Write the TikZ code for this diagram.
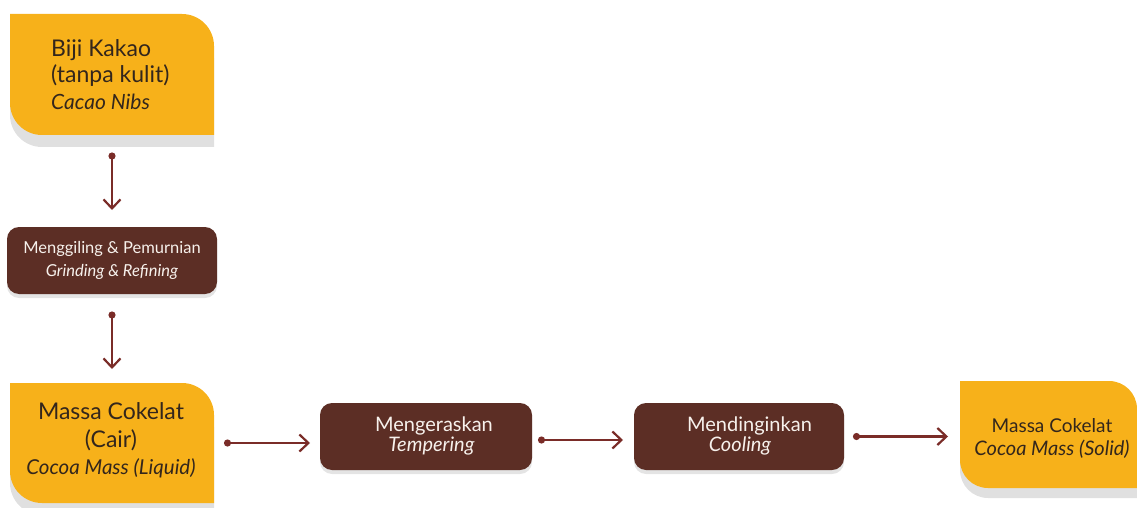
\documentclass[tikz,border=0pt]{standalone}
\usepackage{fontspec}
\setmainfont{Lato}
\usetikzlibrary{arrows.meta,backgrounds}
\definecolor{yfill}{HTML}{F7B11A}
\definecolor{bfill}{HTML}{5C2E25}
\definecolor{shad}{HTML}{E0E0E0}
\definecolor{bshad}{HTML}{E4E4E4}
\definecolor{arr}{HTML}{7A2C28}
\definecolor{ytext}{HTML}{33261C}
\definecolor{btext}{HTML}{F7F1EC}
\newcommand{\leafpath}[3]{([yshift=#2]#1.north west) -- ([xshift=-#3,yshift=#2]#1.north east) arc[start angle=90,end angle=0,radius=#3pt] -- ([yshift=#2]#1.south east) -- ([xshift=#3,yshift=#2]#1.south west) arc[start angle=270,end angle=180,radius=#3pt] -- cycle}
\tikzset{
  leafbox/.style={draw=none, inner sep=0pt, outer sep=0pt},
  leaftext/.style={text=ytext, inner sep=0pt},
  brownbox/.style={fill=bfill, rounded corners=12pt, text=btext, align=center, inner sep=0pt, outer sep=0pt},
  conn/.style={draw=arr, line width=2.4pt, {Circle[length=7pt,width=7pt]}-{Straight Barb[length=9pt,width=17pt,line width=2.2pt]}}
}
\begin{document}
\begin{tikzpicture}[x=1pt,y=1pt]
\useasboundingbox (0,0) rectangle (1137,507);
% boxes
\node[leafbox, minimum width=204pt, minimum height=121pt] (nibs) at (112,432.5) {};
\node[brownbox, minimum width=210pt, minimum height=67pt, font=\fontsize{16.5}{23}\selectfont] (grind) at (112,246.5) {Menggiling \& Pemurnian\\\textit{Grinding \& Refining}};
\node[leafbox, minimum width=204pt, minimum height=120pt] (liquid) at (112,64) {};
\node[brownbox, minimum width=212pt, minimum height=67pt] (temper) at (426,70.5) {};
\node[brownbox, minimum width=210pt, minimum height=67pt] (cool) at (739,70.5) {};
\node[leafbox, minimum width=177pt, minimum height=107pt] (solid) at (1048.5,72.5) {};
% texts
\node[leaftext, anchor=west, align=left, font=\fontsize{23}{26.5}\selectfont] (nibsT) at (51,432.5) {Biji Kakao\\(tanpa kulit)\\\fontsize{21}{26.5}\selectfont\textit{Cacao Nibs}};
\node[leaftext, align=center, font=\fontsize{23}{27.5}\selectfont] (liquidT) at (111,66.5) {Massa Cokelat\\(Cair)\\\fontsize{20.5}{27.5}\selectfont\textit{Cocoa Mass (Liquid)}};
\node[text=btext, align=center, inner sep=0pt, font=\fontsize{20}{20}\selectfont] (temperT) at (434,71.5) {Mengeraskan\\\hspace*{-5pt}\textit{Tempering}};
\node[text=btext, align=center, inner sep=0pt, font=\fontsize{20}{20}\selectfont] (coolT) at (749.5,71.5) {Mendinginkan\\\hspace*{-19pt}\textit{Cooling}};
\node[leaftext, align=center, font=\fontsize{19}{23}\selectfont] (solidT) at (1052,68.5) {Massa Cokelat\\\fontsize{20}{23}\selectfont\textit{Cocoa Mass (Solid)}};
% backgrounds
\begin{scope}[on background layer]
  \fill[shad] \leafpath{nibs}{-12}{32};
  \fill[yfill] \leafpath{nibs}{0}{32};
  \fill[shad] \leafpath{liquid}{-12}{32};
  \fill[yfill] \leafpath{liquid}{0}{32};
  \fill[shad] \leafpath{solid}{-10}{28};
  \fill[yfill] \leafpath{solid}{0}{28};
  \fill[bshad, rounded corners=12pt] ([yshift=-4]grind.south west) rectangle ([yshift=-4]grind.north east);
  \fill[bshad, rounded corners=12pt] ([yshift=-4]temper.south west) rectangle ([yshift=-4]temper.north east);
  \fill[bshad, rounded corners=12pt] ([yshift=-4]cool.south west) rectangle ([yshift=-4]cool.north east);
\end{scope}
% connectors
\draw[conn] ([yshift=-17.5]nibs.south) -- ([yshift=17]grind.north);
\draw[conn] ([yshift=-17.5]grind.south) -- ([yshift=14]liquid.north);
\draw[conn] ([xshift=10]liquid.east) -- ([xshift=-10]temper.west |- liquid.east);
\draw[conn] ([xshift=6,yshift=-3.5]temper.east) -- ([xshift=-11,yshift=-3.5]cool.west);
\draw[conn] ([xshift=9]cool.east) -- ([xshift=-12]solid.west |- cool.east);
\end{tikzpicture}
\end{document}
